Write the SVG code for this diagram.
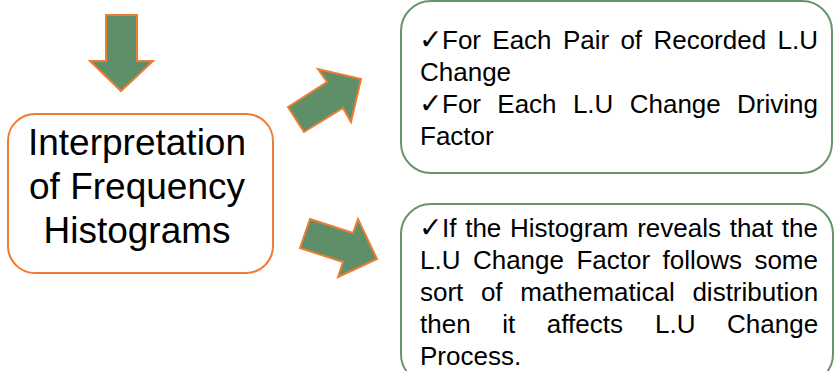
<svg xmlns="http://www.w3.org/2000/svg" width="835" height="371" viewBox="0 0 835 371">
<style>
.arrow{fill:#5F8F68;stroke:#ED7D31;stroke-width:2;stroke-linejoin:miter}
.lbox{fill:#FFFFFF;stroke:#ED7D31;stroke-width:2}
.rbox{fill:#FFFFFF;stroke:#67956B;stroke-width:2}
.big{font-family:"Liberation Sans",Arial,sans-serif;font-size:37px;fill:#000000;text-anchor:middle}
.txt{font-family:"Liberation Sans",Arial,sans-serif;font-size:26px;fill:#000000}
.chk{font-family:"DejaVu Sans",sans-serif;font-size:28px}
</style>
<rect width="835" height="371" fill="#FFFFFF"/>
<g id="connectors">
<polygon class="arrow" points="106,15 137,15 137,61 153,61 121,91 90,61 106,61"/>
<polygon class="arrow" points="288,107 327,82 318,69 361,79 351,122 343,108 304,132"/>
<polygon class="arrow" points="310,219 353,233 358,219 377,259 338,277 343,262 300,248"/>
</g>
<g id="interpretation">
<rect class="lbox" x="8" y="114" width="265" height="159" rx="27" ry="27"/>
<text class="big" x="137" y="155">Interpretation</text>
<text class="big" x="137" y="199">of Frequency</text>
<text class="big" x="137" y="243">Histograms</text>
</g>
<g id="for-each">
<rect class="rbox" x="401" y="1" width="431" height="172" rx="30" ry="30"/>
<text class="txt" y="49"><tspan class="chk" x="419">✓</tspan><tspan x="442">For</tspan><tspan x="492.3">Each</tspan><tspan x="562.9">Pair</tspan><tspan x="620.4">of</tspan><tspan x="653.4">Recorded</tspan><tspan x="777.5">L.U</tspan></text>
<text class="txt" x="420" y="81">Change</text>
<text class="txt" y="113"><tspan class="chk" x="419">✓</tspan><tspan x="442">For</tspan><tspan x="497.3">Each</tspan><tspan x="572.9">L.U</tspan><tspan x="629.7">Change</tspan><tspan x="737.1">Driving</tspan></text>
<text class="txt" x="420" y="145">Factor</text>
</g>
<g id="if-histogram">
<rect class="rbox" x="401" y="204" width="432" height="180" rx="30" ry="30"/>
<text class="txt" y="237"><tspan class="chk" x="419">✓</tspan><tspan x="442">If</tspan><tspan x="465.2">the</tspan><tspan x="510">Histogram</tspan><tspan x="637.2">reveals</tspan><tspan x="729.7">that</tspan><tspan x="781.8">the</tspan></text>
<text class="txt" y="269"><tspan x="420">L.U</tspan><tspan x="472.9">Change</tspan><tspan x="576.4">Factor</tspan><tspan x="662.5">follows</tspan><tspan x="754.4">some</tspan></text>
<text class="txt" y="301"><tspan x="420">sort</tspan><tspan x="480.9">of</tspan><tspan x="520.2">mathematical</tspan><tspan x="692.4">distribution</tspan></text>
<text class="txt" y="333"><tspan x="420">then</tspan><tspan x="502.2">it</tspan><tspan x="546.8">affects</tspan><tspan x="655">L.U</tspan><tspan x="727.1">Change</tspan></text>
<text class="txt" x="420" y="365">Process.</text>
</g>
</svg>
